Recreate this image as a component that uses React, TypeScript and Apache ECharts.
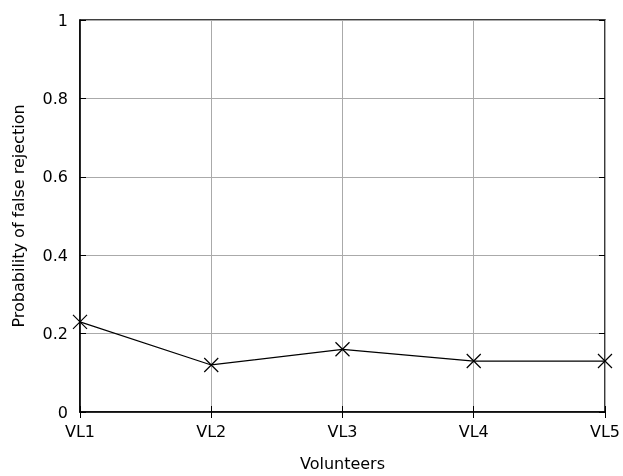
import React, { useEffect, useRef } from "react";
import * as echarts from "echarts";

const categories = ["VL1", "VL2", "VL3", "VL4", "VL5"];
const values = [0.23, 0.12, 0.16, 0.13, 0.13];
const yTicks = [0, 0.2, 0.4, 0.6, 0.8, 1];

export default function App() {
  const ref = useRef<HTMLDivElement>(null);
  useEffect(() => {
    const chart = echarts.init(ref.current!, null, { renderer: "svg" });
    const font = "DejaVu Sans";
    chart.setOption({
      animation: false,
      grid: { left: 80, right: 14, top: 20, bottom: 60, show: true, borderColor: "#000", borderWidth: 1.5 },
      xAxis: [
        {
          type: "category",
          data: categories,
          boundaryGap: false,
          name: "Volunteers",
          nameLocation: "middle",
          nameGap: 43,
          nameTextStyle: { fontFamily: font, fontSize: 16, color: "#000" },
          axisLine: { lineStyle: { color: "#000", width: 1.5 } },
          axisTick: { inside: true, length: 6, lineStyle: { color: "#000" } },
          axisLabel: { fontFamily: font, fontSize: 16, color: "#000", margin: 11 },
          splitLine: { show: true, lineStyle: { color: "#aaa", width: 1 } },
        },
        {
          type: "category",
          data: categories,
          boundaryGap: false,
          position: "top",
          axisLine: { show: false },
          axisTick: { inside: true, length: 6, lineStyle: { color: "#000" } },
          axisLabel: { show: false },
          splitLine: { show: false },
        },
      ],
      yAxis: [
        {
          type: "value",
          min: 0,
          max: 1,
          interval: 0.2,
          name: "Probability of false rejection",
          nameLocation: "middle",
          nameGap: 54,
          nameTextStyle: { fontFamily: font, fontSize: 16, color: "#000" },
          axisLine: { show: true, lineStyle: { color: "#000", width: 1.5 } },
          axisTick: { show: true, inside: true, length: 6, lineStyle: { color: "#000" } },
          axisLabel: {
            fontFamily: font,
            fontSize: 16,
            color: "#000",
            margin: 12,
            formatter: (v: number) => String(yTicks.find((t) => Math.abs(t - v) < 1e-9) ?? v),
          },
          splitLine: { show: true, lineStyle: { color: "#aaa", width: 1 } },
        },
        {
          type: "value",
          min: 0,
          max: 1,
          interval: 0.2,
          position: "right",
          axisLine: { show: false },
          axisTick: { show: true, inside: true, length: 6, lineStyle: { color: "#000" } },
          axisLabel: { show: false },
          splitLine: { show: false },
        },
      ],
      series: [
        {
          type: "line",
          data: values,
          symbol: "path://M0,0L10,10M10,0L0,10",
          symbolSize: 14,
          itemStyle: { color: "none", borderColor: "#000", borderWidth: 1.2 },
          lineStyle: { color: "#000", width: 1.2 },
        },
      ],
    });
    return () => chart.dispose();
  }, []);
  return <div ref={ref} style={{ position: "fixed", left: 0, top: 0, width: 623, height: 476 }} />;
}
